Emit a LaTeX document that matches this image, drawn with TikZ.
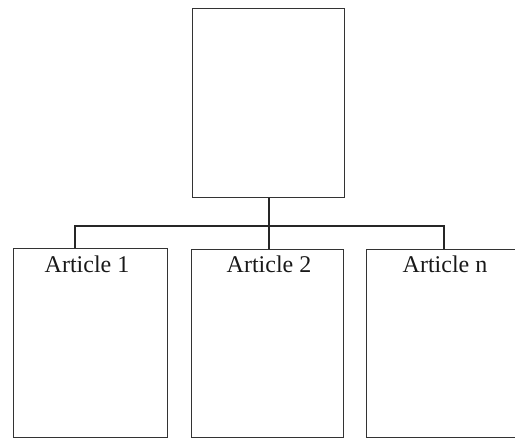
\documentclass[tikz,border=0pt]{standalone}
\usepackage{fontspec}
\setmainfont{Liberation Serif}
\begin{document}
\begin{tikzpicture}[x=1pt,y=-1pt,
  page/.style={draw=black!80, line width=0.9pt, rectangle, inner sep=0pt, anchor=north west},
  link/.style={draw=black!85, line width=2pt},
  title/.style={anchor=base, font=\fontsize{24}{28}\selectfont, text=black!90}]
\useasboundingbox (0,0) rectangle (515,439);
\clip (0,0) rectangle (515,439);
% parent page
\node[page, minimum width=152pt, minimum height=189pt] (top) at (192,8) {};
% child pages (the last one runs past the right edge)
\node[page, minimum width=154pt, minimum height=189pt] (a1) at (13,248) {};
\node[page, minimum width=152pt, minimum height=188pt] (a2) at (191,249) {};
\node[page, minimum width=170pt, minimum height=188pt] (an) at (366,249) {};
% page headings
\node[title] (t1) at (87,272) {Article 1};
\node[title] (t2) at (269,272) {Article 2};
\node[title] (tn) at (445,272) {Article n};
% tree connectors
\coordinate (bus) at (269,226);
\coordinate (d1) at (75,226);
\coordinate (dn) at (444,226);
\draw[link] (top.south -| bus) -- (bus);
\draw[link] (d1 |- a1.north) -- (d1) -- (dn) -- (dn |- an.north);
\draw[link] (bus) -- (bus |- a2.north);
\end{tikzpicture}
\end{document}
